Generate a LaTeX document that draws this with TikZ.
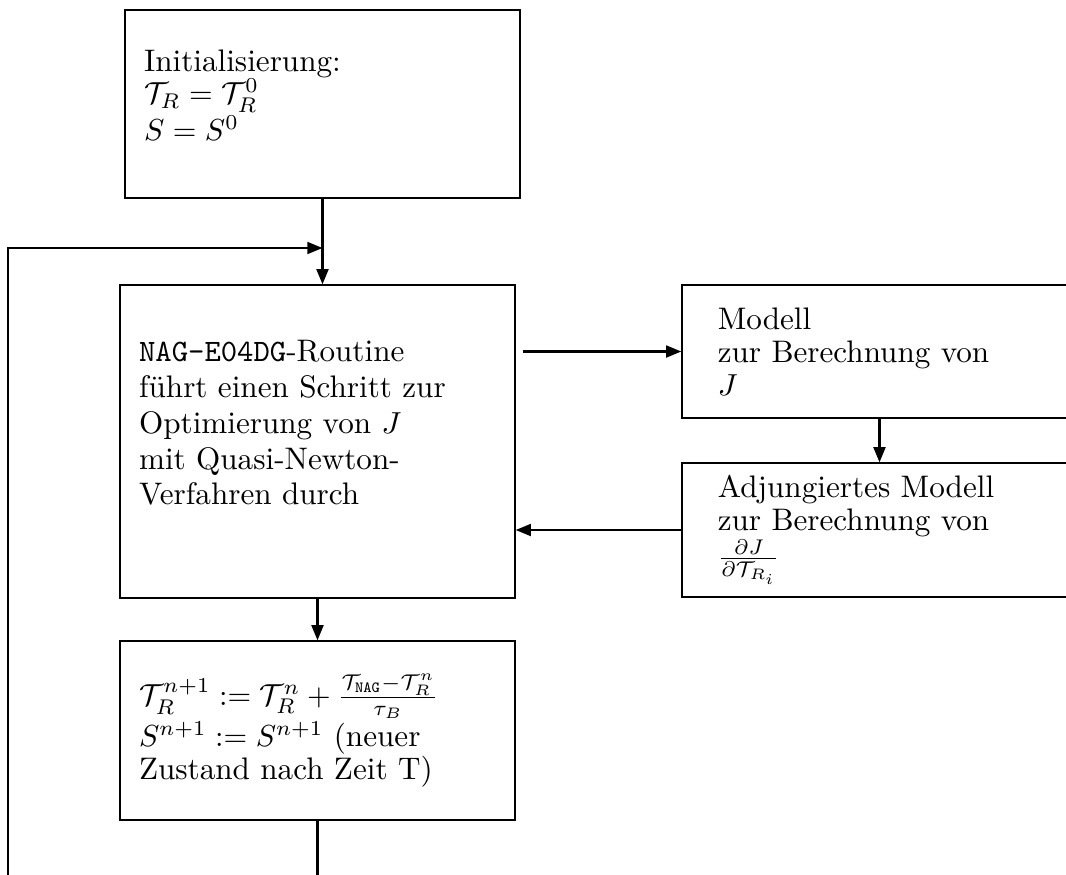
\documentclass[tikz,border=0pt]{standalone}
\usepackage{amsmath, amssymb}
\usepackage{tikz}
\usetikzlibrary{arrows.meta, positioning}

\begin{document}
\begin{tikzpicture}[x=0.329pt, y=-0.329pt,
    font=\fontsize{10.25pt}{10.8pt}\selectfont,
    box/.style={draw, line width=0.4pt, rectangle, minimum width=130pt,
      align=left, text width=117.4pt, inner xsep=6.3pt, inner ysep=0pt},
    sidebox/.style={box, text width=106.4pt, inner xsep=11.8pt},
    flow/.style={line width=0.75pt, -{Triangle[length=5pt, width=3.9pt]}}]
    % page frame (right boxes run off the edge)
    \useasboundingbox (0,0) rectangle (1066,874);
    \clip (0,0) rectangle (1066,874);

    % --- main column ---
    \node[box, minimum height=61.9pt] (init) at (322.5,104) {Initialisierung:\\
      $\mathcal{T}_R = \mathcal{T}_R^0$\\
      $S = S^0$\\[-4.8pt]\mbox{}};
    \node[box, minimum height=103pt, font=\fontsize{10.25pt}{11.8pt}\selectfont]
      (main) at (317.5,441.5) {\texttt{NAG-E04DG}-Routine\\
      f\"uhrt einen Schritt zur\\
      Optimierung von $J$\\
      mit Quasi-Newton-\\
      Verfahren durch\\[0.7pt]\mbox{}};
    \node[box, minimum height=58.9pt] (form) at (317.5,730.5)
      {$\mathcal{T}_R^{n+1} := \mathcal{T}_R^n + \frac{\mathcal{T}_{\texttt{NAG}}-\mathcal{T}_R^n}{\tau_B}$\\
      $S^{n+1} := S^{n+1}$ (neuer\\
      Zustand nach Zeit T)};

    % --- model side ---
    \node[sidebox, minimum height=43.8pt] (model) at (879.5,351.5) {Modell\\
      zur Berechnung von\\
      $J$};
    \node[sidebox, minimum height=44.1pt] (adj) at (879.5,530) {Adjungiertes Modell\\
      zur Berechnung von\\
      $\frac{\partial J}{\partial \mathcal{T}_{R_i}}$};

    % --- connectors ---
    \coordinate (back) at (8,248);
    \coordinate (join) at (init.south |- back);
    \draw[flow] (init.south) -- (init.south |- main.north);
    \draw[flow, shorten <=2.3pt] (main.east |- model.west) -- (model.west);
    \draw[flow] (model.south) -- (adj.north);
    \draw[flow] (adj.west) -- (adj.west -| main.east);
    \draw[flow] (main.south) -- (form.north);

    % loop back (runs below the page)
    \draw[flow] (form.south) -- ++(0,100) -| (back) -- (join);
\end{tikzpicture}
\end{document}
